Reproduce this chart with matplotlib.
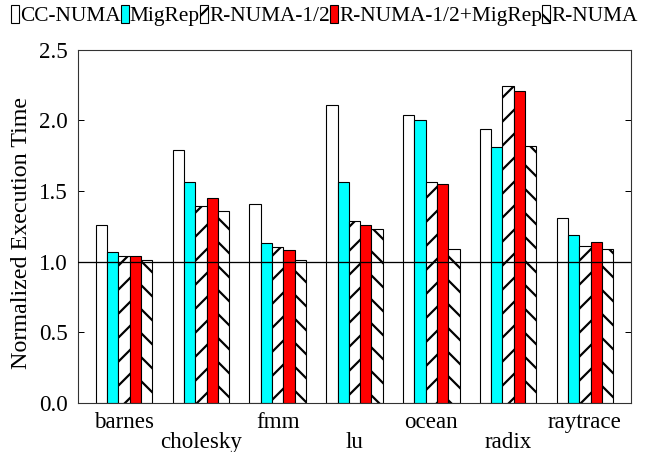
import matplotlib
matplotlib.use("Agg")
import matplotlib.pyplot as plt
import numpy as np

benchmarks = ["barnes", "cholesky", "fmm", "lu", "ocean", "radix", "raytrace"]
series_names = ["CC-NUMA", "MigRep", "R-NUMA-1/2", "R-NUMA-1/2+MigRep", "R-NUMA"]
cc_numa = [1.26, 1.79, 1.41, 2.11, 2.04, 1.94, 1.31]
migrep = [1.07, 1.56, 1.13, 1.56, 2.00, 1.81, 1.19]
rnuma_half = [1.04, 1.39, 1.10, 1.29, 1.56, 2.24, 1.11]
rnuma_half_migrep = [1.04, 1.45, 1.08, 1.26, 1.55, 2.21, 1.14]
rnuma = [1.01, 1.36, 1.01, 1.23, 1.09, 1.82, 1.09]
yticks = [0.0, 0.5, 1.0, 1.5, 2.0, 2.5]

series = [cc_numa, migrep, rnuma_half, rnuma_half_migrep, rnuma]
colors = ["white", "#00ffff", "white", "#ff0000", "white"]
hatches = [None, None, "/", None, "\\"]

plt.rcParams["font.family"] = ["Liberation Serif", "DejaVu Serif"]
plt.rcParams["hatch.linewidth"] = 2.2

W, H = 645, 452
fig = plt.figure(figsize=(W / 72, H / 72), dpi=72)
l, r, t, b = 78, 631, 49.5, 403
ax = fig.add_axes([l / W, 1 - b / H, (r - l) / W, (b - t) / H])

x = np.arange(len(benchmarks))
bw = 0.147
handles = []
for i, (vals, c, h) in enumerate(zip(series, colors, hatches)):
    bars = ax.bar(x + (i - 2) * bw, vals, width=bw, color=c, edgecolor="black",
                  linewidth=1.1, hatch=h, label=series_names[i], zorder=2)
    handles.append(bars)

ax.axhline(1.0, color="black", linewidth=1.3, zorder=5)
ax.set_xlim(-0.6, 6.6)
ax.set_ylim(0, 2.5)
ax.set_yticks(yticks)
ax.set_yticklabels([f"{v:.1f}" for v in yticks], fontsize=23)
ax.tick_params(axis="y", direction="in", length=6, width=1, left=True, right=True, pad=10)
ax.set_xticks(x)
ax.set_xticklabels(benchmarks, fontsize=23)
ax.tick_params(axis="x", length=0)
for i, tk in enumerate(ax.xaxis.get_major_ticks()):
    tk.set_pad(9 if i % 2 == 0 else 29)
for s in ax.spines.values():
    s.set_linewidth(1.1)
    s.set_color("#333333")

fig.text(22 / W, 1 - 233 / H, "Normalized Execution Time", rotation=90,
         ha="center", va="center", fontsize=24)

leg = fig.legend(handles=handles, labels=series_names, loc="upper left",
                 bbox_to_anchor=(9 / W, 1 - 3 / H), ncol=5, frameon=False, fontsize=21.4,
                 handlelength=0.36, handleheight=0.9, handletextpad=0.05,
                 columnspacing=0.02, borderpad=0.1, borderaxespad=0.0)

fig.savefig("out.png", dpi=72)
